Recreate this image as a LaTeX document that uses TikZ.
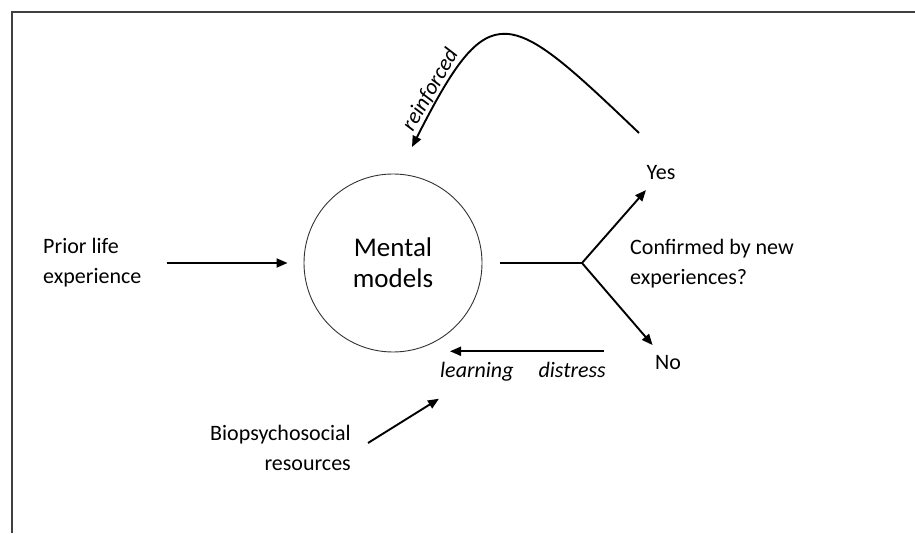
\documentclass[tikz,border=0pt]{standalone}
\usepackage{fontspec}
\setmainfont{Carlito}
\usepackage{tikz}
\usetikzlibrary{arrows.meta}

\begin{document}
\begin{tikzpicture}[x=1pt, y=1pt,
  arr/.style={line width=1.9pt, -{Triangle[length=11pt,width=9pt]}},
  txt/.style={font=\fontsize{22}{30}\selectfont, inner sep=3pt}]
  \useasboundingbox (0,0) rectangle (915,533);
  \draw [line width=1.4pt, black!75] (12,0) -- (12,521) -- (915,521);

  \node [circle, draw, black!80, line width=0.9pt, minimum size=178pt, text=black,
    align=center, font=\fontsize{27}{31}\selectfont] (MM) at (393,270) {Mental\\models};
  \node [txt, align=left, anchor=west] (PL) at (40,270) {Prior life\\experience};
  \node [txt] (YS) at (661,360) {Yes};
  \node [txt] (NO) at (668,170) {No};
  \node [txt, align=left, anchor=west] (CF) at (627,269) {Confirmed by new\\experiences?};
  \node [txt, font=\fontsize{22}{30}\selectfont\itshape] (LD) at (523,161) {learning\hspace{25pt}distress};
  \node [txt, align=right, anchor=east] (BR) at (354,85) {Biopsychosocial\\resources};
  \coordinate (FK) at (582,270);
  \coordinate (LS) at (639,400);
  \coordinate (LE) at (412,386);

  \draw [arr, shorten <=22pt, shorten >=16pt] (PL.east) -- (MM.west);
  \draw [line width=1.9pt, shorten <=18pt] (MM.east) -- (FK);
  \draw [arr, shorten >=9pt] (FK) -- (YS);
  \draw [arr, shorten >=10pt] (FK) -- (NO);
  \draw [arr] ([xshift=-5pt, yshift=8pt]LD.north east) -- ([xshift=13pt, yshift=8pt]LD.north west);
  \draw [arr] ([xshift=14pt, yshift=5pt]BR.east) -- ([shift={(2pt,-14pt)}]LD.south west);
  \draw [arr] (LS) .. controls (507,526) and (490,540) .. (LE)
    node [pos=0.87, sloped, above, inner sep=1pt, font=\fontsize{22}{26}\selectfont\itshape] {reinforced};
\end{tikzpicture}
\end{document}
